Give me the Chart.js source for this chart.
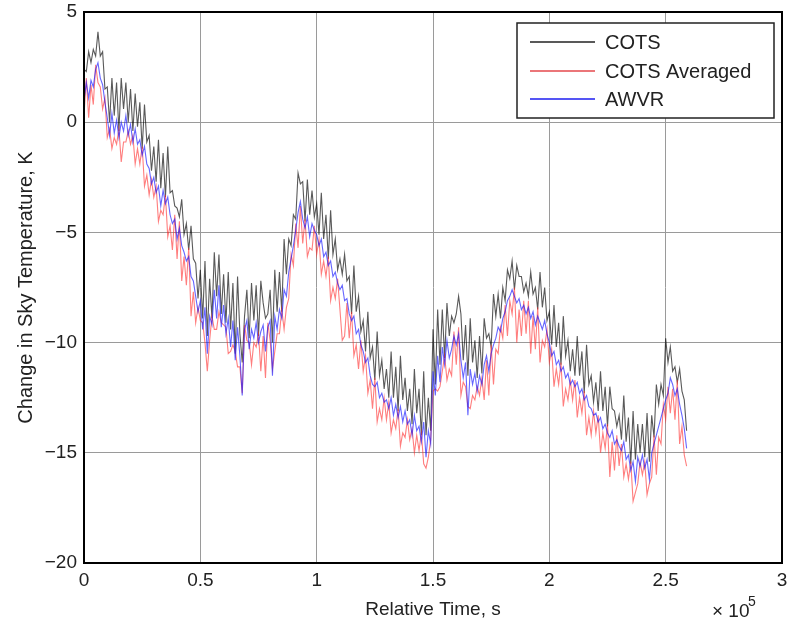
<!DOCTYPE html>
<html>
<head>
<meta charset="utf-8">
<script src="https://cdn.jsdelivr.net/npm/chart.js@4/dist/chart.umd.min.js"></script>
<style>
  html, body { margin: 0; padding: 0; background: #fff; }
  #wrap { width: 793px; height: 629px; }
</style>
</head>
<body>
<div id="wrap"><canvas id="sky-chart"></canvas></div>
<script>
// relative time in units of 1e5 s, sampled every 0.01
const timeStep = 0.01

const cotsValues = [
    2.4, 2.3, 3.2, 2.7, 3.3, 3.0, 4.1, 3.0, 3.2, 1.5,
    1.6, 0.0, 2.0, 0.3, 1.8, -0.4, 2.0, 0.6, 1.8, 0.0,
    1.5, -0.4, 1.3, -0.2, 0.9, -1.2, 0.8, -0.9, -0.6, -2.2,
    -1.1, -2.7, -0.8, -3.0, -1.4, -3.4, -1.1, -3.2, -3.1, -3.8,
    -3.9, -4.3, -3.5, -5.1, -4.6, -5.8, -4.7, -6.2, -6.4, -8.0,
    -6.7, -8.9, -6.3, -9.7, -7.1, -8.9, -5.9, -7.9, -6.0, -8.7,
    -6.9, -9.1, -6.8, -9.4, -7.3, -10.5, -7.0, -9.6, -10.9, -8.8,
    -7.6, -9.8, -7.3, -9.0, -7.4, -9.7, -7.2, -8.2, -8.9, -8.7,
    -7.6, -10.0, -6.7, -8.6, -6.8, -8.6, -5.3, -6.9, -5.3, -5.6,
    -4.2, -4.4, -2.3, -2.8, -2.7, -4.5, -2.6, -4.2, -3.1, -4.3,
    -3.7, -5.1, -3.2, -5.3, -4.2, -6.2, -4.0, -6.0, -5.3, -6.7,
    -6.2, -6.9, -6.0, -7.2, -7.0, -8.7, -6.5, -8.6, -7.9, -9.5,
    -9.0, -10.4, -8.6, -10.7, -10.2, -11.7, -9.5, -11.5, -10.8, -12.1,
    -11.2, -12.5, -10.4, -12.5, -11.1, -13.1, -10.6, -12.6, -11.6, -13.1,
    -12.1, -13.7, -11.2, -13.2, -12.1, -14.2, -11.3, -14.2, -12.5, -14.0,
    -9.4, -11.9, -8.5, -11.0, -8.5, -10.7, -8.2, -9.7, -8.8, -9.1,
    -8.7, -7.9, -8.7, -10.8, -9.2, -11.5, -8.9, -10.9, -9.9, -11.6,
    -9.7, -11.4, -8.9, -9.8, -9.6, -10.2, -7.8, -8.8, -7.8, -8.9,
    -7.5, -8.1, -6.7, -7.1, -6.3, -7.6, -6.5, -7.0, -7.0, -7.7,
    -7.3, -7.9, -6.8, -7.8, -7.5, -8.5, -6.8, -8.4, -7.5, -9.0,
    -8.6, -10.1, -8.3, -10.2, -9.1, -11.0, -8.8, -10.6, -9.9, -11.3,
    -10.3, -11.5, -9.7, -11.5, -10.4, -12.3, -10.1, -11.9, -11.5, -12.7,
    -11.8, -13.1, -11.3, -13.1, -12.0, -13.8, -12.0, -13.0, -13.1, -13.8,
    -13.3, -14.4, -12.4, -14.5, -13.4, -15.5, -13.1, -15.3, -13.7, -15.0,
    -13.7, -15.2, -13.2, -15.4, -13.3, -14.3, -11.9, -12.8, -11.9, -12.4,
    -9.8, -10.9, -10.2, -11.3, -11.1, -11.8, -11.2, -12.2, -12.6, -14.0
]

const cotsAveragedValues = [
    0.3, 2.0, 0.2, 1.7, 0.8, 2.6, 1.8, 1.6, 0.6, 1.1,
    -0.7, -0.3, -1.2, -0.7, -1.0, -0.3, -1.8, -0.9, -0.9, -0.4,
    -1.0, -0.6, -1.9, -1.2, -1.9, -1.1, -2.9, -2.4, -3.3, -2.6,
    -3.4, -2.9, -4.5, -4.0, -4.2, -3.3, -5.2, -4.7, -5.8, -4.2,
    -6.2, -4.5, -7.2, -6.1, -7.4, -5.7, -8.8, -7.7, -9.1, -8.4,
    -9.0, -9.1, -10.0, -11.3, -9.9, -8.8, -9.4, -9.4, -8.6, -9.1,
    -9.2, -9.3, -10.5, -10.4, -10.1, -10.4, -11.1, -11.1, -12.3, -9.2,
    -9.9, -10.0, -11.0, -10.0, -10.2, -9.6, -11.3, -9.7, -11.6, -9.1,
    -9.9, -11.2, -10.4, -9.6, -9.6, -8.5, -9.4, -8.4, -8.0, -6.0,
    -6.5, -4.6, -5.7, -3.8, -5.5, -4.4, -6.1, -5.7, -5.8, -4.7,
    -6.0, -5.3, -6.9, -6.3, -7.0, -6.1, -8.1, -7.5, -8.0, -7.1,
    -8.5, -9.9, -9.7, -8.2, -9.8, -8.6, -10.6, -10.1, -11.2, -9.9,
    -11.3, -10.6, -12.3, -11.7, -13.0, -11.6, -13.6, -13.0, -13.5, -12.5,
    -13.5, -12.7, -14.1, -13.5, -13.9, -13.0, -14.7, -14.1, -14.3, -13.5,
    -14.4, -13.9, -15.0, -14.2, -14.9, -14.1, -15.5, -15.7, -15.2, -14.4,
    -12.2, -12.1, -12.2, -12.0, -11.3, -10.6, -11.7, -11.2, -11.5, -9.5,
    -11.0, -9.3, -12.4, -11.8, -12.0, -12.9, -13.0, -12.4, -12.6, -12.0,
    -12.4, -11.6, -12.6, -10.8, -12.4, -10.1, -11.9, -10.3, -10.5, -9.3,
    -9.8, -8.3, -9.7, -8.1, -8.7, -7.5, -10.0, -8.5, -9.7, -8.1,
    -9.6, -8.1, -10.5, -8.8, -10.3, -8.4, -10.9, -9.9, -10.2, -9.4,
    -10.9, -10.3, -12.0, -11.2, -11.9, -10.9, -12.9, -12.1, -12.6, -11.7,
    -12.6, -11.7, -13.4, -12.5, -13.2, -12.2, -14.2, -13.4, -14.2, -13.1,
    -14.1, -13.3, -15.0, -14.1, -14.8, -13.7, -16.1, -14.5, -15.8, -14.2,
    -15.6, -14.6, -16.1, -15.5, -16.2, -15.4, -17.2, -16.8, -16.4, -15.4,
    -16.0, -15.4, -16.9, -16.4, -16.1, -14.2, -16.0, -14.3, -14.6, -12.8,
    -13.5, -12.0, -13.2, -12.1, -13.5, -11.7, -14.6, -13.8, -15.1, -15.6
]

const awvrValues = [
    1.0, 1.8, 1.1, 1.9, 1.6, 2.4, 2.7, 2.0, 1.7, 0.9,
    0.2, -0.6, 0.4, -0.5, 0.1, -0.7, 0.0, -0.4, 0.3, -0.6,
    -0.1, -0.9, -0.3, -1.0, -0.8, -1.5, -1.1, -1.9, -2.1, -2.8,
    -2.5, -3.2, -2.9, -3.8, -3.1, -3.7, -3.4, -4.2, -4.6, -4.4,
    -5.3, -4.8, -5.6, -5.9, -6.3, -6.1, -7.0, -7.2, -7.9, -8.6,
    -8.1, -9.4, -8.4, -10.5, -8.8, -9.2, -7.6, -8.9, -7.4, -9.3,
    -8.3, -9.6, -8.9, -10.2, -9.0, -10.8, -9.3, -10.6, -12.4, -9.4,
    -9.0, -10.3, -9.4, -9.8, -9.1, -10.0, -9.5, -9.2, -10.4, -9.3,
    -9.0, -11.5, -8.8, -9.4, -8.5, -8.9, -7.6, -7.9, -6.8, -6.2,
    -5.6, -4.9, -4.1, -3.6, -4.4, -4.8, -4.3, -5.2, -4.6, -4.9,
    -5.1, -5.6, -5.3, -6.1, -5.9, -6.5, -6.3, -7.0, -6.8, -7.3,
    -7.6, -7.4, -8.1, -8.0, -8.7, -9.0, -8.8, -9.6, -9.4, -10.1,
    -10.4, -10.9, -10.7, -11.5, -11.9, -12.0, -11.8, -12.5, -12.3, -12.7,
    -12.6, -13.0, -12.5, -13.3, -12.8, -13.4, -12.9, -13.6, -13.1, -13.7,
    -13.5, -14.2, -13.3, -14.0, -13.8, -14.5, -13.6, -15.2, -14.0, -14.6,
    -11.3, -12.4, -10.6, -11.8, -10.2, -11.0, -9.9, -10.7, -10.3, -9.7,
    -10.1, -9.6, -10.8, -11.6, -10.9, -13.3, -11.2, -11.9, -11.4, -12.2,
    -11.5, -11.9, -11.0, -10.6, -11.3, -10.5, -10.1, -9.8, -9.3, -9.5,
    -8.9, -8.6, -8.1, -7.9, -7.6, -7.9, -8.2, -8.0, -8.5, -8.3,
    -8.7, -8.4, -8.9, -8.6, -9.2, -8.8, -9.1, -9.4, -9.0, -9.6,
    -10.0, -10.6, -10.4, -11.0, -10.8, -11.3, -11.1, -11.6, -11.4, -11.9,
    -11.7, -12.0, -11.8, -12.3, -12.1, -12.6, -12.4, -12.9, -13.0, -13.3,
    -13.2, -13.6, -13.4, -13.9, -13.7, -14.1, -14.3, -14.0, -14.6, -14.4,
    -14.7, -14.9, -14.5, -15.3, -15.1, -15.8, -15.4, -16.3, -15.2, -15.6,
    -15.1, -15.7, -15.3, -16.2, -15.0, -14.6, -14.2, -13.8, -13.4, -13.0,
    -12.6, -12.3, -11.6, -11.9, -12.4, -12.1, -12.8, -13.3, -13.9, -14.8
]

const seriesNames = ["COTS", "COTS Averaged", "AWVR"]
const seriesColors = ["rgba(0,0,0,0.65)", "rgba(255,40,40,0.6)", "rgba(20,20,255,0.65)"]
const legendColors = ["#222222", "#e5484d", "#1c1cf0"]

const xTicks = [0, 0.5, 1, 1.5, 2, 2.5, 3]
const yTicks = [5, 0, -5, -10, -15, -20]

const times = cotsValues.map((v, i) => +(i * timeStep).toFixed(2))

const FONT = "'Liberation Sans', Arial, sans-serif"

function toPoints(values) {
    return values.map((v, i) => ({x: times[i], y: v}))
}

// box around the plot, legend box and the x10^5 exponent
const framePlugin = {
    id: 'frame',
    afterDraw(chart) {
        const ctx = chart.ctx
        const a = chart.chartArea
        ctx.save()
        ctx.strokeStyle = '#000'
        ctx.lineWidth = 2
        ctx.strokeRect(a.left, a.top, a.right - a.left, a.bottom - a.top)

        // legend
        const lx = 517, ly = 23, lw = 257, lh = 95
        ctx.fillStyle = '#fff'
        ctx.fillRect(lx, ly, lw, lh)
        ctx.lineWidth = 1.5
        ctx.strokeStyle = '#222'
        ctx.strokeRect(lx, ly, lw, lh)
        ctx.font = '20px ' + FONT
        ctx.textBaseline = 'middle'
        ctx.textAlign = 'left'
        const rows = [42, 71, 99]
        seriesNames.forEach((name, i) => {
            ctx.strokeStyle = legendColors[i]
            ctx.lineWidth = 1.5
            ctx.beginPath()
            ctx.moveTo(530, rows[i])
            ctx.lineTo(595, rows[i])
            ctx.stroke()
            ctx.fillStyle = '#222'
            ctx.fillText(name, 605, rows[i] + 1)
        })

        // exponent label
        ctx.fillStyle = '#222'
        ctx.font = '19px ' + FONT
        ctx.textBaseline = 'alphabetic'
        ctx.fillText('\u00d7 10', 712, 617)
        ctx.font = '14px ' + FONT
        ctx.fillText('5', 748, 606)
        ctx.restore()
    }
}

function buildChart() {
    const canvas = document.getElementById("sky-chart")
    const datasets = [cotsValues, cotsAveragedValues, awvrValues].map((values, i) => ({
        label: seriesNames[i],
        data: toPoints(values),
        borderColor: seriesColors[i],
        borderWidth: 1.1,
        pointRadius: 0,
        tension: 0,
        fill: false,
        order: 3 - i
    }))

    return new Chart(canvas, {
        type: 'line',
        data: {datasets: datasets},
        options: {
            responsive: true,
            maintainAspectRatio: false,
            animation: false,
            layout: {padding: {top: 12, right: 11, left: 0, bottom: 0}},
            plugins: {legend: {display: false}, tooltip: {enabled: false}},
            scales: {
                x: {
                    type: 'linear',
                    min: 0,
                    max: 3,
                    afterFit: s => { s.height = 66; s.paddingLeft = 0; s.paddingRight = 0 },
                    afterBuildTicks: s => { s.ticks = xTicks.map(v => ({value: v})) },
                    ticks: {
                        color: '#222',
                        font: {family: FONT, size: 19},
                        padding: 6,
                        maxRotation: 0,
                        callback: v => String(v)
                    },
                    grid: {color: '#9a9a9a', lineWidth: 1, drawTicks: false},
                    border: {display: false},
                    title: {
                        display: true,
                        text: 'Relative Time, s',
                        color: '#222',
                        font: {family: FONT, size: 19},
                        padding: {top: 0, bottom: 8}
                    }
                },
                y: {
                    type: 'linear',
                    min: -20,
                    max: 5,
                    afterFit: s => { s.width = 84; s.paddingTop = 0; s.paddingBottom = 0 },
                    afterBuildTicks: s => { s.ticks = yTicks.map(v => ({value: v})) },
                    ticks: {
                        color: '#222',
                        font: {family: FONT, size: 19},
                        padding: 7,
                        callback: v => String(v).replace('-', '\u2212')
                    },
                    grid: {color: '#9a9a9a', lineWidth: 1, drawTicks: false},
                    border: {display: false},
                    title: {
                        display: true,
                        text: 'Change in Sky Temperature, K',
                        color: '#222',
                        font: {family: FONT, size: 20},
                        padding: {top: 14, bottom: 0}
                    }
                }
            }
        },
        plugins: [framePlugin]
    })
}

buildChart()
</script>
</body>
</html>
